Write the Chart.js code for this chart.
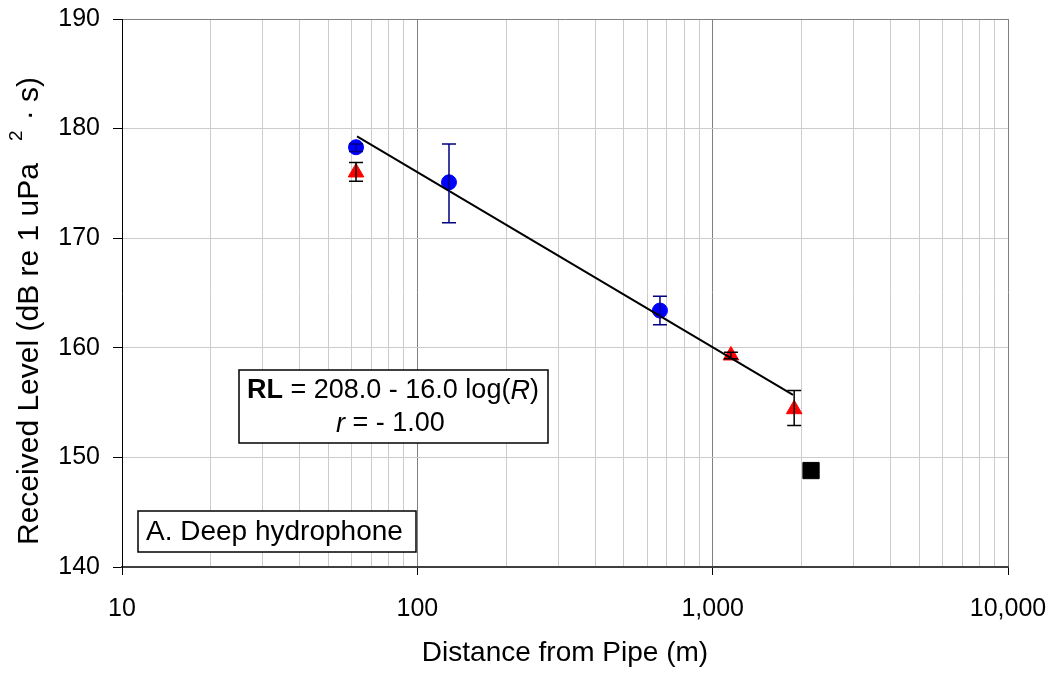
<!DOCTYPE html>
<html>
<head>
<meta charset="utf-8">
<script src="https://cdn.jsdelivr.net/npm/chart.js@4.4.0/dist/chart.umd.min.js"></script>
<style>
  html, body { margin: 0; padding: 0; background: #fff; }
  #wrap { width: 1055px; height: 675px; }
</style>
</head>
<body>
<div id="wrap"><canvas id="rlChart"></canvas></div>
<script>
// values (distance m, level dB)
var blueX = [62, 128, 663];
var blueY = [178.3, 175.1, 163.4];
var blueLo = [177.9, 171.4, 162.1];
var blueHi = [178.6, 178.6, 164.7];

var redX = [62, 1153, 1888];
var redY = [176.0, 159.3, 154.4];
var redLo = [175.2, 159.0, 152.9];
var redHi = [176.9, 159.6, 156.1];

var blackX = [2153];
var blackY = [148.8];

// regression line end points
var fitX = [62.5, 1871];
var fitY = [179.3, 155.7];

var xTicks = [10, 100, 1000, 10000];
var yMin = 140, yMax = 190, yStep = 10;

var FONT = 'Liberation Sans, Arial, sans-serif';

function pts(xs, ys) {
    var out = [];
    for (var i = 0; i < xs.length; i++) out.push({x: xs[i], y: ys[i]});
    return out;
}
function isDecade(v) {
    var l = Math.log10(v);
    return Math.abs(l - Math.round(l)) < 1e-9;
}

var errorBars = {
    id: 'errorBars',
    afterDatasetsDraw: function (chart) {
        var xs = chart.scales.x, ys = chart.scales.y;
        var ctx = chart.ctx;
        function bars(xv, lo, hi, color) {
            ctx.save();
            ctx.strokeStyle = color;
            ctx.lineWidth = 1.5;
            for (var i = 0; i < xv.length; i++) {
                var px = xs.getPixelForValue(xv[i]);
                var p1 = ys.getPixelForValue(lo[i]);
                var p2 = ys.getPixelForValue(hi[i]);
                ctx.beginPath();
                ctx.moveTo(px, p1); ctx.lineTo(px, p2);
                ctx.moveTo(px - 7, p1); ctx.lineTo(px + 7, p1);
                ctx.moveTo(px - 7, p2); ctx.lineTo(px + 7, p2);
                ctx.stroke();
            }
            ctx.restore();
        }
        bars(blueX, blueLo, blueHi, '#000080');
        bars(redX, redLo, redHi, '#000000');
    }
};

var labelsPlugin = {
    id: 'labelsPlugin',
    afterDraw: function (chart) {
        var ctx = chart.ctx;
        var a = chart.chartArea;
        ctx.save();
        ctx.fillStyle = '#000';
        ctx.textBaseline = 'middle';

        // x title
        ctx.font = '28px ' + FONT;
        ctx.textAlign = 'center';
        ctx.fillText('Distance from Pipe (m)', (a.left + a.right) / 2, 653);

        // y title with superscript
        ctx.save();
        ctx.translate(30, 0);
        ctx.rotate(-Math.PI / 2);
        ctx.textAlign = 'left';
        var main = 'Received Level (dB re 1 uPa';
        ctx.font = '30px ' + FONT;
        var w1 = ctx.measureText(main).width;
        ctx.font = '19px ' + FONT;
        var w2 = ctx.measureText('2').width;
        var gap = 22;
        var sx = -545;
        ctx.font = '30px ' + FONT;
        ctx.fillText(main, sx, 0);
        ctx.font = '19px ' + FONT;
        ctx.fillText('2', sx + w1 + gap, -13);
        ctx.font = '30px ' + FONT;
        ctx.fillText(' \u00b7 s)', sx + w1 + gap + w2 + 2, 0);
        ctx.restore();

        // equation box
        ctx.fillStyle = '#fff';
        ctx.fillRect(239, 370, 309, 73);
        ctx.strokeStyle = '#000';
        ctx.lineWidth = 1.5;
        ctx.strokeRect(239, 370, 309, 73);
        ctx.fillStyle = '#000';
        ctx.textAlign = 'left';
        var fs = 27;
        var x0 = 247, y0 = 391;
        ctx.font = 'bold ' + fs + 'px ' + FONT;
        ctx.fillText('RL', x0, y0);
        x0 += ctx.measureText('RL').width;
        ctx.font = fs + 'px ' + FONT;
        ctx.fillText(' = 208.0 - 16.0 log(', x0, y0);
        x0 += ctx.measureText(' = 208.0 - 16.0 log(').width;
        ctx.font = 'italic ' + fs + 'px ' + FONT;
        ctx.fillText('R', x0, y0);
        x0 += ctx.measureText('R').width;
        ctx.font = fs + 'px ' + FONT;
        ctx.fillText(')', x0, y0);

        var x1 = 336, y1 = 424;
        ctx.font = 'italic ' + fs + 'px ' + FONT;
        ctx.fillText('r', x1, y1);
        x1 += ctx.measureText('r').width;
        ctx.font = fs + 'px ' + FONT;
        ctx.fillText(' = - 1.00', x1, y1);

        // panel label
        ctx.fillStyle = '#fff';
        ctx.fillRect(138, 511, 278, 41);
        ctx.strokeRect(138, 511, 278, 41);
        ctx.fillStyle = '#000';
        ctx.font = '28px ' + FONT;
        ctx.fillText('A. Deep hydrophone', 146, 532);
        ctx.restore();
    }
};

var ctx = document.getElementById('rlChart').getContext('2d');
var chart = new Chart(ctx, {
    type: 'scatter',
    data: {
        datasets: [
            {
                type: 'line',
                data: pts(fitX, fitY),
                borderColor: '#000',
                borderWidth: 2,
                pointRadius: 0,
                fill: false
            },
            {
                data: pts(blueX, blueY),
                pointStyle: 'circle',
                pointRadius: 7.5,
                backgroundColor: '#0000ff',
                borderColor: '#0000ff'
            },
            {
                data: pts(redX, redY),
                pointStyle: 'triangle',
                pointRadius: 9,
                backgroundColor: '#ff0000',
                borderColor: '#ff0000'
            },
            {
                data: pts(blackX, blackY),
                pointStyle: 'rect',
                pointRadius: 11.5,
                backgroundColor: '#000',
                borderColor: '#000'
            }
        ]
    },
    options: {
        responsive: true,
        maintainAspectRatio: false,
        animation: false,
        layout: { padding: { left: 0, right: 47, top: 19, bottom: 0 } },
        plugins: { legend: { display: false }, tooltip: { enabled: false } },
        scales: {
            x: {
                type: 'logarithmic',
                min: 10,
                max: 10000,
                afterFit: function (s) {
                    s.height = 108;
                    s.paddingLeft = 0;
                    s.paddingRight = 0;
                },
                afterBuildTicks: function (s) {
                    var t = [];
                    for (var d = 10; d < 10000; d *= 10) {
                        for (var k = 1; k < 10; k++) t.push({value: d * k});
                    }
                    t.push({value: 10000});
                    s.ticks = t;
                },
                ticks: {
                    autoSkip: false,
                    maxRotation: 0,
                    padding: 19,
                    color: '#000',
                    font: { family: FONT, size: 25 },
                    callback: function (v) {
                        return xTicks.indexOf(v) >= 0 ? v.toLocaleString('en-US') : '';
                    }
                },
                grid: {
                    color: function (c) {
                        return c.tick && isDecade(c.tick.value) ? '#808080' : '#cccccc';
                    },
                    tickColor: function (c) {
                        return c.tick && isDecade(c.tick.value) ? '#000' : 'rgba(0,0,0,0)';
                    },
                    tickLength: 8
                },
                border: { color: '#404040', width: 2 }
            },
            y: {
                min: yMin,
                max: yMax,
                afterFit: function (s) {
                    s.width = 122;
                    s.paddingTop = 0;
                    s.paddingBottom = 0;
                },
                ticks: {
                    stepSize: yStep,
                    padding: 13,
                    color: '#000',
                    font: { family: FONT, size: 25 }
                },
                grid: {
                    color: function (c) {
                        return c.tick && c.tick.value === yMax ? '#808080' : '#cccccc';
                    },
                    tickColor: '#000',
                    tickLength: 9
                },
                border: { color: '#000', width: 1 }
            }
        }
    },
    plugins: [errorBars, labelsPlugin]
});
</script>
</body>
</html>
